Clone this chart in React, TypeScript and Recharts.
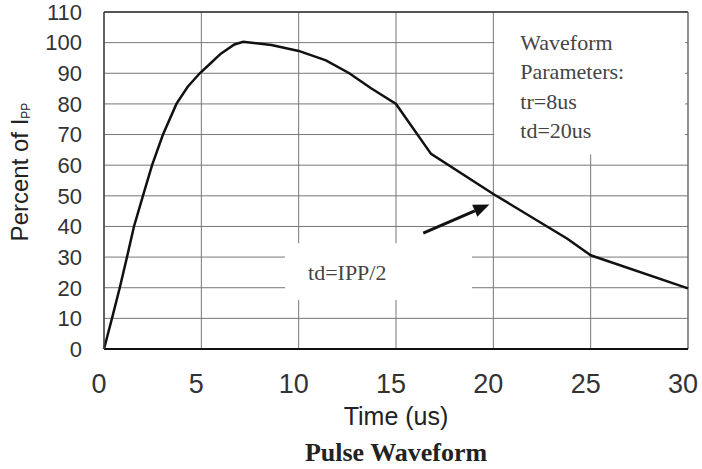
import { CartesianGrid, Line, LineChart, ReferenceArea, ReferenceLine, XAxis, YAxis } from "recharts"

// pulse waveform
const timeUs = [0, 0.41, 0.81, 1.18, 1.54, 2.0, 2.47, 3.03, 3.72, 4.3, 4.92, 5.45, 6.0, 6.7, 7.15, 8.6, 10, 11.4, 12.6, 13.7, 15, 16.8, 20, 23.8, 25, 30]
const percentIpp = [0, 10, 20, 30, 40, 50, 60, 70, 80, 85.6, 90, 93.1, 96.4, 99.4, 100.3, 99.2, 97.3, 94.2, 90, 85.2, 80, 63.7, 50.6, 36, 30.6, 19.8]

const xTicks = [0, 5, 10, 15, 20, 25, 30]
const yTicks = [0, 10, 20, 30, 40, 50, 60, 70, 80, 90, 100, 110]

const paramLines = ["Waveform", "Parameters:", "tr=8us", "td=20us"]
const halfLabel = "td=IPP/2"

const data = timeUs.map((t, i) => ({ t, pct: percentIpp[i] }))

const SANS = "'Liberation Sans', Arial, sans-serif"
const SERIF = "'Liberation Serif', 'Times New Roman', serif"

function renderArrow(props: any) {
  const { x1, y1, x2, y2 } = props
  const ang = Math.atan2(y2 - y1, x2 - x1)
  const len = 16
  const half = 6.5
  const bx = x2 - len * Math.cos(ang)
  const by = y2 - len * Math.sin(ang)
  const p1 = `${bx + half * Math.sin(ang)},${by - half * Math.cos(ang)}`
  const p2 = `${bx - half * Math.sin(ang)},${by + half * Math.cos(ang)}`
  return (
    <g>
      <line x1={x1} y1={y1} x2={bx} y2={by} stroke="#111" strokeWidth={3} />
      <polygon points={`${x2},${y2} ${p1} ${p2}`} fill="#111" />
    </g>
  )
}

function XLabels(props: any) {
  const { viewBox } = props
  const cx = viewBox.x + viewBox.width / 2
  return (
    <g>
      <text x={cx} y={viewBox.y + 76} textAnchor="middle" fontFamily={SANS} fontSize={25} fill="#222">
        Time (us)
      </text>
      <text x={cx} y={viewBox.y + 112} textAnchor="middle" fontFamily={SERIF} fontWeight="bold" fontSize={26} fill="#222">
        Pulse Waveform
      </text>
    </g>
  )
}

function YLabel() {
  return (
    <text transform="translate(28,172) rotate(-90)" textAnchor="middle" fontFamily={SANS} fontSize={24} fill="#222">
      Percent of I
      <tspan fontSize={12} dy={2}>PP</tspan>
    </text>
  )
}

function ParamText(props: any) {
  const { viewBox } = props
  return (
    <text fontFamily={SERIF} fontSize={22} fill="#444">
      {paramLines.map((s, i) => (
        <tspan key={s} x={viewBox.x + 26} y={viewBox.y + 37 + i * 29.5}>
          {s}
        </tspan>
      ))}
    </text>
  )
}

function HalfText(props: any) {
  const { viewBox } = props
  return (
    <text x={viewBox.x + 23} y={viewBox.y + 37} fontFamily={SERIF} fontSize={22} fill="#444">
      {halfLabel}
    </text>
  )
}

export default function App() {
  return (
    <div style={{ position: "absolute", left: 0, top: 0, background: "#fff" }}>
      <LineChart width={702} height={469} data={data} margin={{ top: 12, right: 14, left: 0, bottom: 60 }}>
        <CartesianGrid stroke="#777" strokeWidth={1} />
        <XAxis
          dataKey="t"
          type="number"
          domain={[0, 30]}
          ticks={xTicks}
          height={60}
          axisLine={{ stroke: "#111", strokeWidth: 2 }}
          tickLine={false}
          tickMargin={19}
          tick={{ fontSize: 27, fill: "#333", fontFamily: SANS, dx: -5 }}
          label={<XLabels />}
        />
        <YAxis
          type="number"
          domain={[0, 110]}
          ticks={yTicks}
          width={104}
          interval={0}
          axisLine={{ stroke: "#444", strokeWidth: 1.5 }}
          tickLine={false}
          tickMargin={16}
          tick={{ fontSize: 22, fill: "#333", fontFamily: SANS }}
          label={<YLabel />}
        />
        <ReferenceArea x1={20.05} x2={29.85} y1={63.5} y2={109.8} fill="#fff" fillOpacity={1} stroke="none" label={<ParamText />} />
        <ReferenceArea x1={9.3} x2={18.9} y1={16} y2={34.5} fill="#fff" fillOpacity={1} stroke="none" label={<HalfText />} />
        <ReferenceLine y={110} stroke="#333" strokeWidth={1.5} />
        <ReferenceLine x={30} stroke="#666" strokeWidth={1} />
        <ReferenceLine
          segment={[
            { x: 16.4, y: 37.8 },
            { x: 19.8, y: 47.2 },
          ]}
          ifOverflow="visible"
          shape={renderArrow}
        />
        <Line
          type="linear"
          dataKey="pct"
          stroke="#111"
          strokeWidth={2.5}
          dot={false}
          isAnimationActive={false}
        />
      </LineChart>
    </div>
  )
}
